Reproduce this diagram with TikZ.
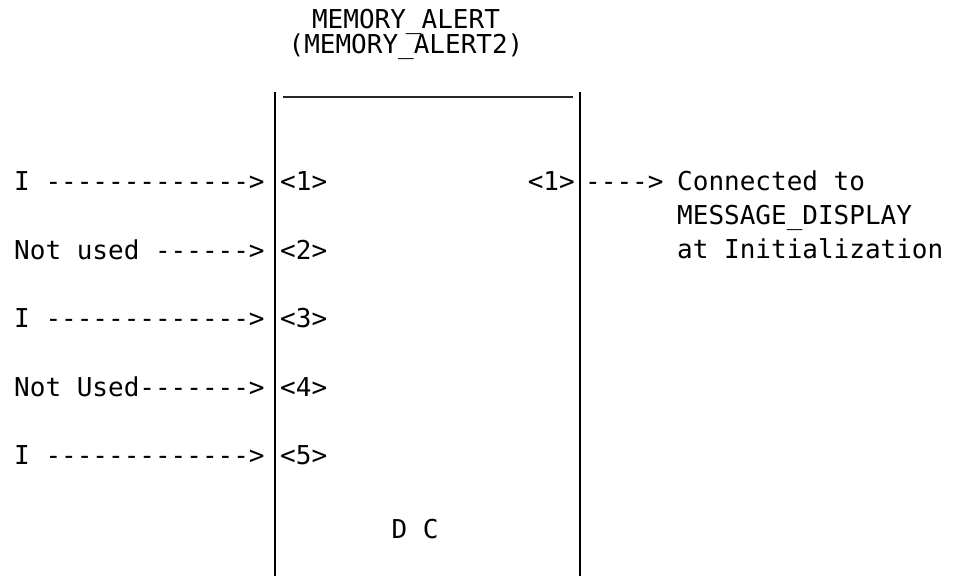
\documentclass[tikz,border=0pt]{standalone}
\usepackage{fontspec}
\setmonofont{DejaVu Sans Mono}
\begin{document}
\begin{tikzpicture}[x=1pt,y=-1pt,
  txt/.style={inner sep=0pt, font=\ttfamily\fontsize{26}{30}\selectfont, text height=19pt, text depth=0pt},
  wline/.style={line width=2.5pt, black},
  tline/.style={line width=2pt, black!85}]
\useasboundingbox (0,0) rectangle (964,576);
% title
\node[txt, anchor=base] (title1) at (406,28) {MEMORY\_ALERT};
\node[txt, anchor=base] (title2) at (406,53) {(MEMORY\_ALERT2)};
% box
\coordinate (lt) at (275,92);
\coordinate (lb) at (275,576);
\coordinate (rt) at (580,92);
\coordinate (rb) at (580,576);
\coordinate (hl) at (283,97);
\coordinate (hr) at (573,97);
\draw[wline] (lt) -- (lb);
\draw[wline] (rt) -- (rb);
\draw[tline] (hl) -- (hr);
% inputs
\node[txt, anchor=base west] (in1) at (14,190.5) {I -------------{}>};
\node[txt, anchor=base west] (in2) at (14,259) {Not used ------{}>};
\node[txt, anchor=base west] (in3) at (14,327.5) {I -------------{}>};
\node[txt, anchor=base west] (in4) at (14,396) {Not Used-------{}>};
\node[txt, anchor=base west] (in5) at (14,464.5) {I -------------{}>};
% ports
\node[txt, anchor=base west] (p1) at (280,190.5) {<1>};
\node[txt, anchor=base west] (p2) at (280,259) {<2>};
\node[txt, anchor=base west] (p3) at (280,327.5) {<3>};
\node[txt, anchor=base west] (p4) at (280,396) {<4>};
\node[txt, anchor=base west] (p5) at (280,464.5) {<5>};
\node[txt, anchor=base east] (q1) at (575,190.5) {<1>};
% output
\node[txt, anchor=base west] (out) at (585,190.5) {----{}>};
\node[txt, anchor=base west] (c1) at (677,190.5) {Connected to};
\node[txt, anchor=base west] (c2) at (677,224.5) {MESSAGE\_DISPLAY};
\node[txt, anchor=base west] (c3) at (677,258.5) {at Initialization};
% bottom
\node[txt, anchor=base] (dc) at (415,538) {D C};
\end{tikzpicture}
\end{document}
